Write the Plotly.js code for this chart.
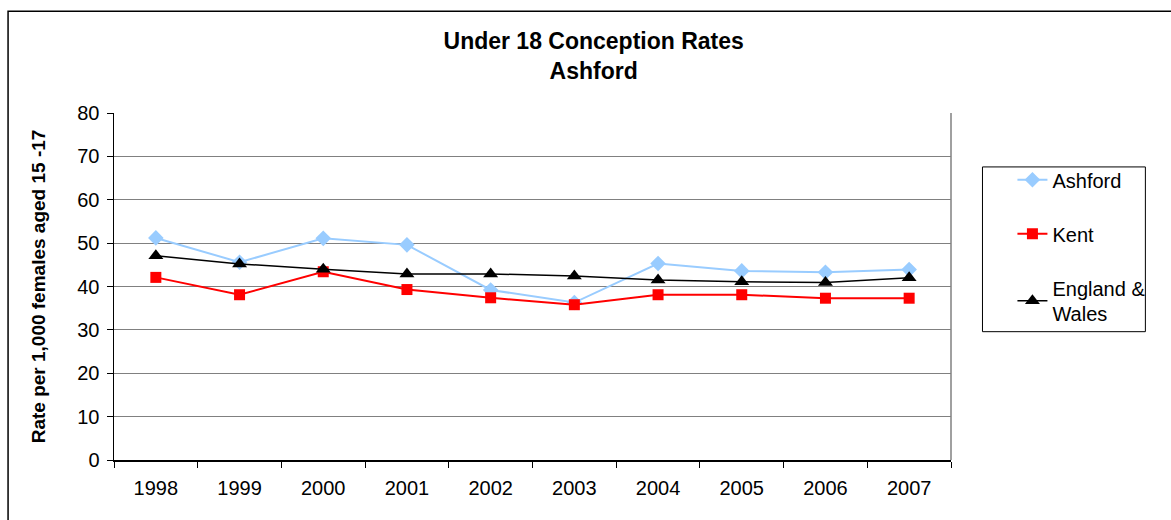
<!DOCTYPE html>
<html>
<head>
<meta charset="utf-8">
<script src="https://cdn.plot.ly/plotly-3.0.1.min.js"></script>
<style>
  html, body { margin: 0; padding: 0; background: #fff; }
  #chart { width: 1171px; height: 520px; }
</style>
</head>
<body>
<div id="chart"></div>
<script>
const years = ["1998","1999","2000","2001","2002","2003","2004","2005","2006","2007"];
const ashford = [51.2, 45.6, 51.1, 49.6, 39.2, 36.3, 45.3, 43.6, 43.3, 43.9];
const kent = [42.1, 38.1, 43.4, 39.3, 37.4, 35.8, 38.1, 38.1, 37.3, 37.3];
const englandWales = [47.1, 45.2, 44.0, 42.9, 42.9, 42.4, 41.5, 41.1, 40.9, 42.0];
const seriesNames = ["Ashford", "Kent", "England &<br>Wales"];
const yTicks = [0, 10, 20, 30, 40, 50, 60, 70, 80];

const FONT = "Liberation Sans, Arial, sans-serif";

const traces = [
  {x: years, y: ashford, name: seriesNames[0], legendgroup: "a", type: "scatter", mode: "lines+markers",
   line: {color: "#99CCFF", width: 2}, marker: {symbol: "diamond", size: 12, color: "#99CCFF"}},
  {x: years, y: kent, name: seriesNames[1], legendgroup: "b", type: "scatter", mode: "lines+markers",
   line: {color: "#FF0000", width: 2}, marker: {symbol: "square", size: 11, color: "#FF0000"}},
  {x: years, y: englandWales, name: seriesNames[2], legendgroup: "c", type: "scatter", mode: "lines+markers",
   line: {color: "#000000", width: 1.5}, marker: {symbol: "triangle-up", size: 13, color: "#000000"}}
];

const layout = {
  width: 1171, height: 520,
  paper_bgcolor: "#fff", plot_bgcolor: "#fff",
  margin: {l: 114, r: 219.5, t: 113, b: 59.5},
  font: {family: FONT, size: 20, color: "#000"},
  title: {
    text: "<b>Under 18 Conception Rates<br>Ashford</b>",
    x: 0.507, xref: "container", xanchor: "center",
    y: 0.905, yref: "container", yanchor: "top",
    font: {family: FONT, size: 23, color: "#000"}
  },
  xaxis: {
    type: "category", categoryorder: "array", categoryarray: years,
    range: [-0.5, 9.5],
    tickson: "boundaries", ticks: "outside", ticklen: 6, tickcolor: "#000",
    ticklabelstandoff: 9,
    showgrid: false, showline: true, linecolor: "#000", linewidth: 1.5,
    tickfont: {family: FONT, size: 20, color: "#000"}, zeroline: false,
    fixedrange: true
  },
  yaxis: {
    range: [0, 80], tickvals: yTicks, ticks: "outside", ticklen: 6, tickcolor: "#000",
    ticklabelstandoff: 3,
    showgrid: true, gridcolor: "#808080", gridwidth: 1,
    showline: true, linecolor: "#000", linewidth: 1.5, zeroline: false,
    tickfont: {family: FONT, size: 20, color: "#000"},
    title: {text: "<b>Rate per 1,000 females aged 15 -17</b>", font: {family: FONT, size: 19, color: "#000"}, standoff: 26},
    fixedrange: true
  },
  showlegend: true,
  legend: {
    x: 1.0734, xanchor: "left", y: 0.864, yanchor: "top",
    traceorder: "grouped", tracegroupgap: 25,
    font: {family: FONT, size: 20, color: "#000"},
    bgcolor: "rgba(0,0,0,0)", borderwidth: 0
  },
  shapes: [
    {type: "line", xref: "paper", yref: "paper", x0: 1, x1: 1, y0: 0, y1: 1, line: {color: "#808080", width: 1.5}},
    {type: "rect", xref: "paper", yref: "paper",
     x0: (983 - 114) / 837.5, x1: (1146 - 114) / 837.5,
     y0: (460.5 - 332) / 347.5, y1: (460.5 - 167) / 347.5,
     line: {color: "#000", width: 1}},
    {type: "rect", xref: "paper", yref: "paper",
     x0: (8 - 114) / 837.5, x1: (1190 - 114) / 837.5,
     y0: (460.5 - 540) / 347.5, y1: (460.5 - 11) / 347.5,
     line: {color: "#000", width: 1.5}}
  ]
};

Plotly.newPlot("chart", traces, layout, {displayModeBar: false, staticPlot: true});
</script>
</body>
</html>
